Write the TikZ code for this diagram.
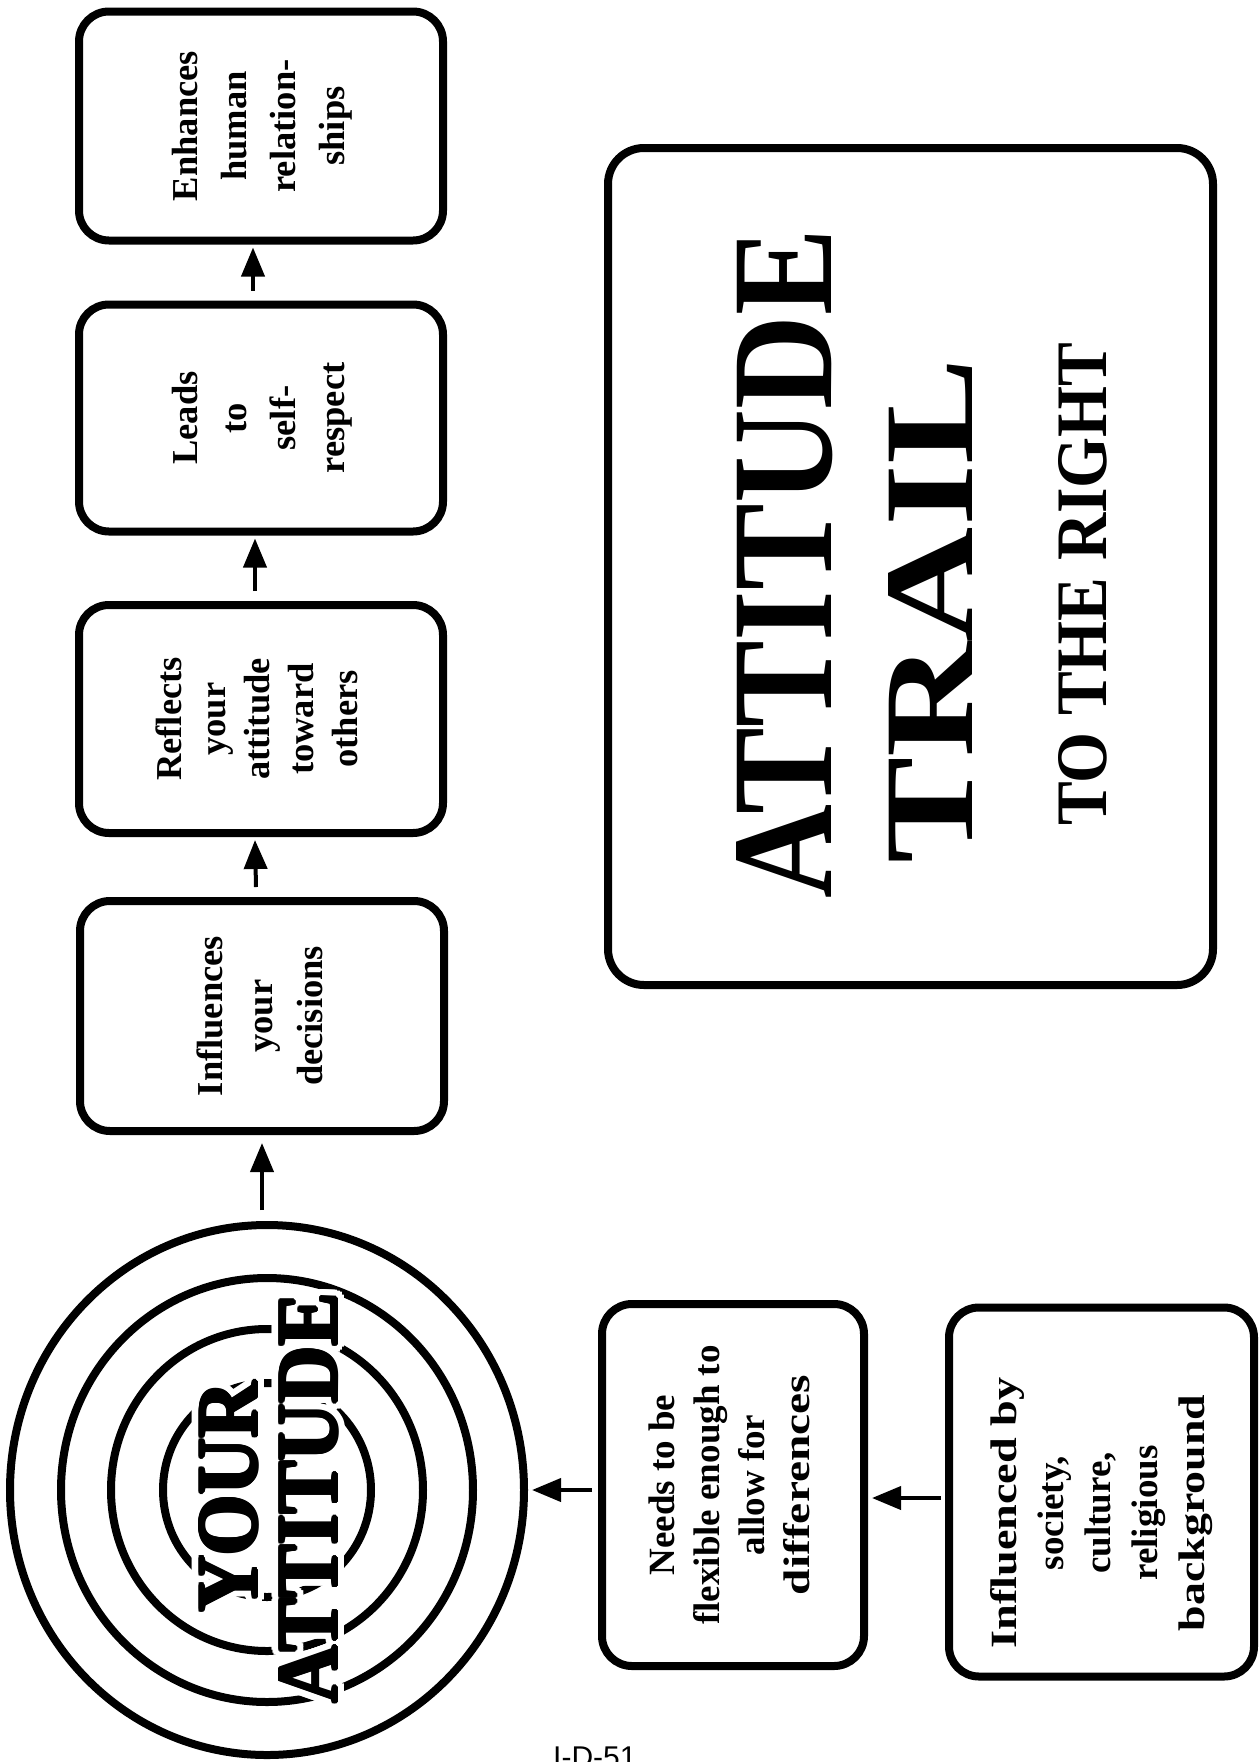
\documentclass[tikz,border=0pt]{standalone}
\usepackage{fontspec}
\usepackage{graphicx}
\setmainfont{Liberation Serif}
\newfontfamily\footfont{Liberation Sans}
\usetikzlibrary{arrows.meta,calc,shapes.geometric}
% [#1 shift space], #2 font size, #3 line distance, #4 lines
\newcommand\boxlines[4][0pt]{\rotatebox{90}{\fontsize{#2}{#3}\selectfont\bfseries
  \setbox\strutbox=\hbox{\vrule height 0.7\baselineskip depth 0.3\baselineskip width 0pt}%
  \begin{tabular}{@{}c@{}}#4\end{tabular}\hspace{#1}}}
\newcommand\yourtxt{\resizebox{230pt}{57pt}{\bfseries YOUR}}
\newcommand\atttxt{\resizebox{410pt}{57pt}{\bfseries ATTITUDE}}
\tikzset{
  box/.style={draw=black, line width=8pt, rounded corners=30pt, fill=white, inner sep=0pt, align=center},
  arr/.style={line width=4pt, -{Triangle[length=29pt,width=23pt]}},
  ring/.style={line width=8pt},
  vtext/.style={rotate=90, inner sep=0pt},
}
\begin{document}
\begin{tikzpicture}[x=1pt,y=-1pt]
\useasboundingbox (0,0) rectangle (1260,1762);
\fill[white] (0,0) rectangle (1260,1762);

% top row of boxes
\node[box, minimum width=364pt, minimum height=229pt] (b1) at (261,126) {\boxlines{36.5}{49}{Enhances\\human\\relation-\\ships}};
\node[box, minimum width=364pt, minimum height=227pt] (b2) at (261,418) {\boxlines{36.5}{49}{Leads\\to\\self-\\respect}};
\node[box, minimum width=364pt, minimum height=228pt] (b3) at (261,719) {\boxlines{36.5}{44}{Reflects\\your\\attitude\\toward\\others}};
\node[box, minimum width=364pt, minimum height=230pt] (b4) at (262,1016) {\boxlines{36.5}{50}{Influences\\your\\decisions}};

% big title box
\node[box, rounded corners=36pt, minimum width=605pt, minimum height=837pt] (big) at (910.5,566.5) {};
\node[vtext] (tatt) at (785,564) {\resizebox{669pt}{95pt}{\bfseries ATTITUDE}};
\node[vtext] (ttrail) at (930,611) {\resizebox{505pt}{84pt}{\bfseries TRAIL}};
\node[vtext] (tright) at (1083,584) {\resizebox{483pt}{48pt}{\bfseries TO THE RIGHT}};

% bottom boxes
\node[box, minimum width=262pt, minimum height=362pt] (needs) at (733,1485) {\boxlines{37}{45}{Needs to be\\flexible enough to\\allow for\\\scalebox{1.28}[1]{differences}}};
\node[box, minimum width=305pt, minimum height=369pt] (infl) at (1101.5,1492) {\boxlines[42pt]{37}{47}{\scalebox{1.25}[1]{Influenced by}\\society,\\culture,\\religious\\\scalebox{1.24}[1]{background}}};

% target circle
\node[ring, draw, ellipse, minimum width=514pt, minimum height=530pt, inner sep=0pt] (circ) at (267,1490) {};
\draw[ring] (circ.center) ellipse [x radius=206pt, y radius=212pt];
\draw[ring] (circ.center) ellipse [x radius=156pt, y radius=161pt];
\draw[ring] (circ.center) ellipse [x radius=104pt, y radius=107pt];
\coordinate (yc) at (228.5,1497);
\coordinate (ac) at (308.5,1498);
\foreach \r in {4,8}{\foreach \a in {0,20,...,340}{
  \node[vtext, text=white] (hy-\r-\a) at ($(yc)+(\a:\r)$) {\yourtxt};
  \node[vtext, text=white] (ha-\r-\a) at ($(ac)+(\a:\r)$) {\atttxt};
}}
\foreach \a in {0,45,...,315}{
  \node[vtext] (by-\a) at ($(yc)+(\a:1.5)$) {\yourtxt};
  \node[vtext] (ba-\a) at ($(ac)+(\a:1.5)$) {\atttxt};
}
\node[vtext] (your) at (yc) {\yourtxt};
\node[vtext] (att) at (ac) {\atttxt};

% connectors
\draw[arr] ($(b2.north)+(-8,-10)$) -- ($(b1.south)+(-8,3)$);
\draw[arr] ($(b3.north)+(-6,-10)$) -- ($(b2.south)+(-6,3)$);
\draw[arr] ($(b4.north)+(-6,-10)$) -- ($(b3.south)+(-6,3)$);
\draw[arr] ($(b4.south |- circ.north)+(0,-11)$) -- ($(b4.south)+(0,8)$);
\draw[arr] ($(needs.west)+(-6,5)$) -- ($(circ.east)+(4,0)$);
\draw[arr] ($(infl.west)+(-4,6)$) -- ($(needs.east)+(4,13)$);

% page label
\node[font=\footfont\fontsize{30}{30}\selectfont, anchor=base west, inner sep=0pt] (foot) at (553,1767) {I-D-51};
\end{tikzpicture}
\end{document}
